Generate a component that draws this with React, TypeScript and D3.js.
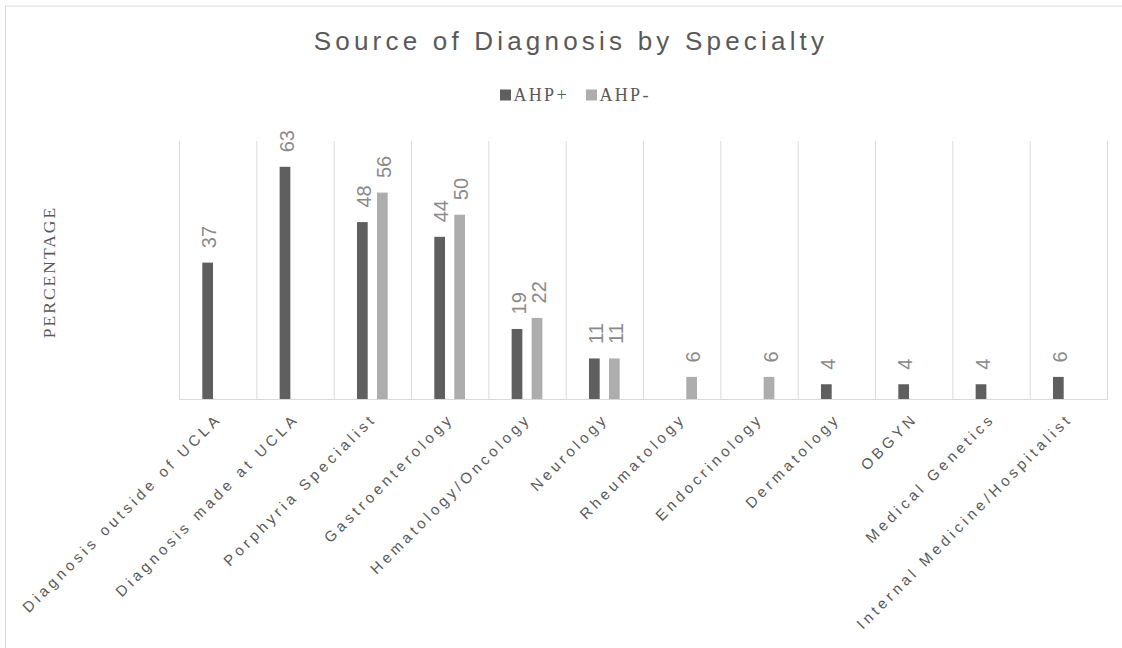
import React from "react";
import * as d3 from "d3";

const categories = [
  "Diagnosis outside of UCLA",
  "Diagnosis made at UCLA",
  "Porphyria Specialist",
  "Gastroenterology",
  "Hematology/Oncology",
  "Neurology",
  "Rheumatology",
  "Endocrinology",
  "Dermatology",
  "OBGYN",
  "Medical Genetics",
  "Internal Medicine/Hospitalist",
];
const seriesNames = ["AHP+", "AHP-"];
const ahpPlus: (number | null)[] = [37, 63, 48, 44, 19, 11, null, null, 4, 4, 4, 6];
const ahpMinus: (number | null)[] = [null, null, 56, 50, 22, 11, 6, 6, null, null, null, null];
const seriesColors = ["#5f5f5f", "#adadad"];
const title = "Source of Diagnosis by Specialty";
const yTitle = "PERCENTAGE";

const W = 1122;
const H = 648;
const plot = { left: 179, right: 1107, top: 141, bottom: 399 };

export default function App() {
  const x0 = d3.scaleBand<string>().domain(categories).range([plot.left, plot.right]).padding(0);
  const x1 = d3.scaleBand<string>().domain(seriesNames).range([-15.35, 15.35]).paddingInner(0.465).paddingOuter(0);
  const y = d3.scaleLinear().domain([0, 70]).range([plot.bottom, plot.top]);
  const seriesValues = [ahpPlus, ahpMinus];

  const bars: any[] = [];
  seriesValues.forEach((vals, si) => {
    vals.forEach((v, ci) => {
      if (v === null) return;
      const cx = (x0(categories[ci]) as number) + x0.bandwidth() / 2;
      const bx = cx + (x1(seriesNames[si]) as number);
      bars.push({ si, ci, v, bx, bw: x1.bandwidth(), top: y(v) });
    });
  });

  const boundaries = categories.map((c) => x0(c) as number).concat([plot.right]);

  return (
    <svg width={W} height={H} style={{ position: "absolute", left: 0, top: 0, background: "#fff" }}>
      <rect x={5.5} y={6} width={1300} height={800} fill="#fff" stroke="#d9d9d9" strokeWidth={1} />
      <text x={571} y={49.5} textAnchor="middle" fontFamily="Liberation Sans, Arial, sans-serif" fontSize={26} letterSpacing={4.2} fill="#595959">
        {title}
      </text>
      {seriesNames.map((s, i) => {
        const lx = [500, 586][i];
        return (
          <g key={s}>
            <rect x={lx} y={89.5} width={11} height={11} fill={seriesColors[i]} />
            <text x={lx + 13.5} y={101} fontFamily="Liberation Serif, Times New Roman, serif" fontSize={18} letterSpacing={2.3} fill="#595959">
              {s}
            </text>
          </g>
        );
      })}
      <text transform={`translate(55,272) rotate(-90)`} textAnchor="middle" fontFamily="Liberation Serif, Times New Roman, serif" fontSize={17.5} letterSpacing={2} fill="#595959">
        {yTitle}
      </text>
      {boundaries.map((bx, i) => (
        <line key={i} x1={bx + 0.5} x2={bx + 0.5} y1={plot.top} y2={plot.bottom} stroke="#d9d9d9" strokeWidth={1} />
      ))}
      {bars.map((b) => (
        <rect key={`${b.si}-${b.ci}`} x={b.bx} y={b.top} width={b.bw} height={plot.bottom - b.top} fill={seriesColors[b.si]} />
      ))}
      <line x1={plot.left} x2={plot.right + 1} y1={plot.bottom + 0.5} y2={plot.bottom + 0.5} stroke="#d9d9d9" strokeWidth={1} />
      {bars.map((b) => (
        <text
          key={`l-${b.si}-${b.ci}`}
          transform={`translate(${b.bx + b.bw / 2 + 8.5},${b.top - 14.5}) rotate(-90)`}
          fontFamily="Liberation Sans, Arial, sans-serif"
          fontSize={20}
          fill="#8a8a8a"
        >
          {b.v}
        </text>
      ))}
      {categories.map((c) => {
        const cx = (x0(c) as number) + x0.bandwidth() / 2;
        return (
          <text
            key={c}
            transform={`translate(${cx + 5},419.5) rotate(-45)`}
            textAnchor="end"
            fontFamily="Liberation Sans, Arial, sans-serif"
            fontSize={15}
            letterSpacing={3.8}
            fill="#595959"
          >
            {c}
          </text>
        );
      })}
    </svg>
  );
}
